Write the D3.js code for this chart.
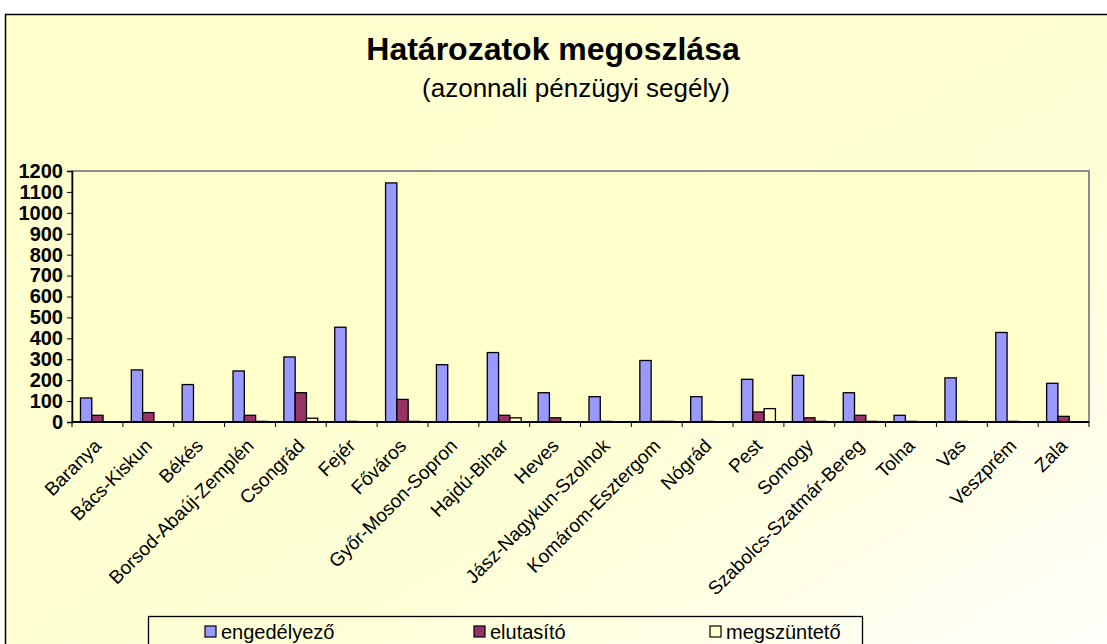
<!DOCTYPE html>
<html>
<head>
<meta charset="utf-8">
<script src="https://cdn.jsdelivr.net/npm/d3@7"></script>
<style>
  html, body { margin: 0; padding: 0; background: #ffffff; }
  svg { display: block; }
  text { font-family: "Liberation Sans", Arial, sans-serif; }
</style>
</head>
<body>
<svg id="chart" width="1107" height="644"></svg>
<script>
// ---- data ----
const categories = ["Baranya", "Bács-Kiskun", "Békés", "Borsod-Abaúj-Zemplén", "Csongrád", "Fejér",
  "Főváros", "Győr-Moson-Sopron", "Hajdú-Bihar", "Heves", "Jász-Nagykun-Szolnok", "Komárom-Esztergom",
  "Nógrád", "Pest", "Somogy", "Szabolcs-Szatmár-Bereg", "Tolna", "Vas", "Veszprém", "Zala"];
const seriesNames = ["engedélyező", "elutasító", "megszüntető"];
const engedelyezo = [115, 249, 179, 244, 311, 453, 1143, 274, 332, 140, 121, 294, 121, 204, 223, 140, 32, 211, 428, 185];
const elutasito   = [32, 45, 0, 32, 140, 3, 108, 0, 32, 20, 3, 3, 3, 48, 20, 32, 3, 3, 3, 27];
const megszunteto = [0, 0, 0, 3, 18, 0, 3, 0, 20, 0, 0, 3, 0, 64, 3, 3, 0, 0, 0, 0];
const yTicks = [0, 100, 200, 300, 400, 500, 600, 700, 800, 900, 1000, 1100, 1200];
const colors = ["#9999FF", "#993366", "#FFFFCC"];
const title = "Határozatok megoszlása";
const subtitle = "(azonnali pénzügyi segély)";

const series = [engedelyezo, elutasito, megszunteto];

const svg = d3.select("#chart");
const W = 1107, H = 644;

// background gradient
const defs = svg.append("defs");
const grad = defs.append("linearGradient").attr("id", "bg")
  .attr("x1", "0").attr("y1", "0").attr("x2", "1").attr("y2", "1");
grad.append("stop").attr("offset", "0").attr("stop-color", "#FFFFCC");
grad.append("stop").attr("offset", "0.6").attr("stop-color", "#FFFFD6");
grad.append("stop").attr("offset", "1").attr("stop-color", "#FFFFFF");

svg.append("rect").attr("x", 0).attr("y", 0).attr("width", W).attr("height", H).attr("fill", "#ffffff");
svg.append("rect").attr("x", 5.5).attr("y", 14.5).attr("width", W + 20).attr("height", H + 20)
  .attr("fill", "url(#bg)").attr("stroke", "#000").attr("stroke-width", 1.5);

// plot area
const m = { left: 72, right: 1089, top: 171, bottom: 422 };
const x = d3.scaleBand().domain(categories).range([m.left, m.right]).paddingInner(0).paddingOuter(0);
const y = d3.scaleLinear().domain([0, 1200]).range([m.bottom, m.top]);
const bw = x.bandwidth();
const barW = bw / 4.5;
const x1 = d3.scaleBand().domain(seriesNames).range([barW * 0.75, barW * 3.75]);

svg.append("rect").attr("x", m.left).attr("y", m.top).attr("width", m.right - m.left).attr("height", m.bottom - m.top)
  .attr("fill", "#FFFFCC").attr("stroke", "#8c8c8c").attr("stroke-width", 2);

// bars
const g = svg.append("g");
series.forEach((vals, si) => {
  g.selectAll(null).data(vals.map((v, i) => ({ c: categories[i], v })).filter(d => d.v > 0))
    .enter().append("rect")
    .attr("x", d => x(d.c) + x1(seriesNames[si]))
    .attr("y", d => y(d.v))
    .attr("width", x1.bandwidth())
    .attr("height", d => y(0) - y(d.v))
    .attr("fill", colors[si])
    .attr("stroke", "#000").attr("stroke-width", 1.3);
});

// y axis
const yAxis = svg.append("g").attr("transform", `translate(${m.left},0)`)
  .call(d3.axisLeft(y).tickValues(yTicks).tickSize(5).tickPadding(4).tickFormat(d3.format("d")));
yAxis.select(".domain").attr("stroke", "#000").attr("stroke-width", 1.5);
yAxis.selectAll(".tick line").attr("stroke", "#000");
yAxis.selectAll("text").attr("font-size", 20).attr("font-weight", "bold").attr("fill", "#000")
  .attr("font-family", "'Liberation Sans', Arial, sans-serif");

// x axis
const xTickPos = categories.map(c => x(c)).concat([m.right]);
const xAxisG = svg.append("g");
xAxisG.append("line").attr("x1", m.left).attr("x2", m.right).attr("y1", m.bottom).attr("y2", m.bottom)
  .attr("stroke", "#000").attr("stroke-width", 2);
xAxisG.selectAll(".xt").data(xTickPos).enter().append("line")
  .attr("x1", d => d).attr("x2", d => d).attr("y1", m.bottom).attr("y2", m.bottom + 5)
  .attr("stroke", "#000");
xAxisG.selectAll(".xl").data(categories).enter().append("text")
  .attr("transform", d => `translate(${x(d) + bw / 2 + 5},${m.bottom + 25}) rotate(-45)`)
  .attr("text-anchor", "end")
  .attr("font-size", 19)
  .attr("fill", "#000")
  .text(d => d);

// title
svg.append("text").attr("x", 553).attr("y", 60).attr("text-anchor", "middle")
  .attr("font-size", 32).attr("font-weight", "bold").attr("fill", "#000").text(title);
svg.append("text").attr("x", 576).attr("y", 97).attr("text-anchor", "middle")
  .attr("font-size", 26).attr("fill", "#000").text(subtitle);

// legend
const lg = svg.append("g");
lg.append("rect").attr("x", 148.5).attr("y", 616.5).attr("width", 714).attr("height", 40)
  .attr("fill", "none").attr("stroke", "#000").attr("stroke-width", 1.3);
const legendX = [205, 474, 710];
seriesNames.forEach((s, i) => {
  lg.append("rect").attr("x", legendX[i]).attr("y", 626).attr("width", 11).attr("height", 11)
    .attr("fill", colors[i]).attr("stroke", "#000").attr("stroke-width", 1.2);
  lg.append("text").attr("x", legendX[i] + 16).attr("y", 639).attr("font-size", 20).attr("fill", "#000").text(s);
});
</script>
</body>
</html>
